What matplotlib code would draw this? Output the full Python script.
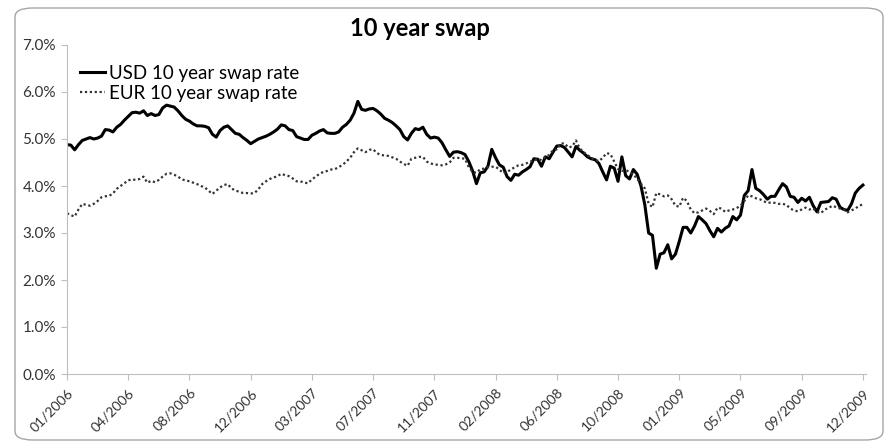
import matplotlib
matplotlib.use('agg')
import numpy as np
import pandas as pd
import matplotlib.pyplot as plt
from matplotlib.patches import FancyBboxPatch
from matplotlib.ticker import FuncFormatter

plt.rcParams['font.family'] = ['Lato', 'DejaVu Sans']

# weekly fixings, Jan 2006 - Dec 2009 (percent)
weeks = pd.date_range('2006-01-02', periods=209, freq='7D')

usd_rate = [
    4.88, 4.87, 4.77, 4.88, 4.97, 5.00, 5.03, 5.00, 5.02, 5.06,
    5.20, 5.19, 5.15, 5.25, 5.31, 5.40, 5.48, 5.56, 5.57, 5.55,
    5.60, 5.50, 5.54, 5.50, 5.52, 5.66, 5.72, 5.70, 5.68, 5.60,
    5.50, 5.42, 5.38, 5.32, 5.28, 5.28, 5.27, 5.24, 5.10, 5.04,
    5.18, 5.25, 5.28, 5.20, 5.12, 5.10, 5.03, 4.97, 4.90, 4.95,
    5.00, 5.03, 5.06, 5.10, 5.15, 5.21, 5.30, 5.28, 5.20, 5.18,
    5.05, 5.02, 4.99, 4.99, 5.08, 5.12, 5.17, 5.20, 5.13, 5.12,
    5.12, 5.15, 5.25, 5.31, 5.40, 5.55, 5.80, 5.63, 5.61, 5.64,
    5.65, 5.60, 5.53, 5.44, 5.40, 5.35, 5.28, 5.20, 5.05, 4.98,
    5.12, 5.22, 5.20, 5.25, 5.10, 5.02, 5.04, 5.02, 4.92, 4.77,
    4.63, 4.72, 4.73, 4.71, 4.67, 4.52, 4.32, 4.05, 4.28, 4.30,
    4.42, 4.78, 4.60, 4.45, 4.40, 4.20, 4.12, 4.25, 4.23, 4.30,
    4.35, 4.41, 4.58, 4.57, 4.42, 4.62, 4.58, 4.72, 4.85, 4.86,
    4.82, 4.72, 4.62, 4.84, 4.76, 4.70, 4.62, 4.58, 4.56, 4.48,
    4.30, 4.13, 4.42, 4.38, 4.10, 4.62, 4.22, 4.15, 4.35, 4.25,
    4.00, 3.60, 3.00, 2.95, 2.25, 2.55, 2.58, 2.75, 2.45, 2.55,
    2.82, 3.12, 3.12, 3.00, 3.15, 3.35, 3.28, 3.20, 3.05, 2.92,
    3.10, 3.02, 3.10, 3.15, 3.35, 3.28, 3.38, 3.80, 3.90, 4.35,
    3.95, 3.90, 3.82, 3.72, 3.78, 3.78, 3.92, 4.05, 3.98, 3.78,
    3.76, 3.65, 3.74, 3.68, 3.76, 3.58, 3.45, 3.65, 3.66, 3.67,
    3.75, 3.72, 3.55, 3.50, 3.48, 3.62, 3.85, 3.95, 4.02,
]

eur_rate = [
    3.42, 3.38, 3.35, 3.50, 3.62, 3.60, 3.58, 3.62, 3.68, 3.76,
    3.78, 3.79, 3.84, 3.94, 4.00, 4.06, 4.12, 4.14, 4.13, 4.15,
    4.20, 4.07, 4.11, 4.08, 4.13, 4.20, 4.26, 4.27, 4.24, 4.20,
    4.14, 4.12, 4.10, 4.07, 4.04, 4.00, 3.97, 3.90, 3.83, 3.90,
    3.97, 4.02, 4.04, 3.95, 3.90, 3.88, 3.85, 3.85, 3.84, 3.85,
    3.93, 4.04, 4.10, 4.15, 4.18, 4.21, 4.26, 4.23, 4.21, 4.16,
    4.10, 4.10, 4.07, 4.06, 4.14, 4.20, 4.26, 4.30, 4.32, 4.35,
    4.36, 4.40, 4.45, 4.52, 4.60, 4.72, 4.80, 4.76, 4.72, 4.77,
    4.78, 4.70, 4.66, 4.65, 4.64, 4.61, 4.58, 4.52, 4.47, 4.43,
    4.58, 4.60, 4.62, 4.62, 4.52, 4.48, 4.46, 4.45, 4.44, 4.46,
    4.50, 4.60, 4.60, 4.59, 4.58, 4.40, 4.30, 4.28, 4.36, 4.37,
    4.40, 4.41, 4.41, 4.35, 4.27, 4.30, 4.35, 4.40, 4.44, 4.45,
    4.48, 4.52, 4.54, 4.58, 4.55, 4.62, 4.66, 4.76, 4.78, 4.90,
    4.91, 4.82, 4.84, 4.97, 4.80, 4.72, 4.66, 4.60, 4.55, 4.53,
    4.60, 4.70, 4.68, 4.52, 4.36, 4.32, 4.34, 4.30, 4.25, 4.15,
    4.05, 3.95, 3.62, 3.55, 3.85, 3.82, 3.78, 3.80, 3.72, 3.58,
    3.56, 3.75, 3.68, 3.50, 3.42, 3.44, 3.48, 3.52, 3.47, 3.40,
    3.54, 3.52, 3.45, 3.48, 3.50, 3.53, 3.58, 3.68, 3.80, 3.78,
    3.74, 3.72, 3.68, 3.64, 3.65, 3.64, 3.62, 3.62, 3.60, 3.52,
    3.48, 3.46, 3.50, 3.54, 3.50, 3.52, 3.45, 3.42, 3.50, 3.53,
    3.58, 3.55, 3.52, 3.50, 3.44, 3.48, 3.52, 3.58, 3.61,
]

tick_every = 16

fig = plt.figure(figsize=(8.88, 4.43), dpi=100)
fig.patches.append(FancyBboxPatch((15 / 888, 3 / 443), 868 / 888, 432 / 443,
                                  boxstyle='round,pad=0,rounding_size=0.02',
                                  transform=fig.transFigure, fill=False,
                                  edgecolor='#a6a6a6', linewidth=1.0))

ax = fig.add_axes([67 / 888, 1 - 374 / 443, 799 / 888, 329 / 443])
x = np.arange(len(weeks))
ax.plot(x, usd_rate, color='black', lw=2.2, label='USD 10 year swap rate')
ax.plot(x, eur_rate, color='#333333', lw=1.6, ls=(0, (1, 1.2)),
        label='EUR 10 year swap rate')

ax.set_xlim(0, 208.8)
ax.set_ylim(0, 7)
ax.set_yticks(np.arange(0, 8, 1))
ax.yaxis.set_major_formatter(FuncFormatter(lambda v, p: '{:.1f}%'.format(v)))
ticks = x[::tick_every]
ax.set_xticks(ticks)
ax.set_xticklabels([weeks[i].strftime('%m/%Y') for i in ticks],
                   rotation=45, ha='right', rotation_mode='anchor')

for side in ['top', 'right']:
    ax.spines[side].set_visible(False)
for side in ['left', 'bottom']:
    ax.spines[side].set_color('#bfbfbf')
ax.tick_params(axis='both', colors='#bfbfbf', length=4, labelcolor='#333333')
ax.tick_params(axis='y', labelsize=11, pad=4)
ax.tick_params(axis='x', labelsize=10, pad=5)

ax.legend(loc='upper left', bbox_to_anchor=(0.0, 0.98), frameon=False,
          fontsize=13.5, handlelength=1.3, handletextpad=0.25,
          labelspacing=0.15, borderaxespad=0.3)

fig.text(420 / 888, 1 - 28 / 443, '10 year swap', ha='center', va='center',
         fontsize=17, fontweight='bold')

fig.savefig('out.png', dpi=100)
